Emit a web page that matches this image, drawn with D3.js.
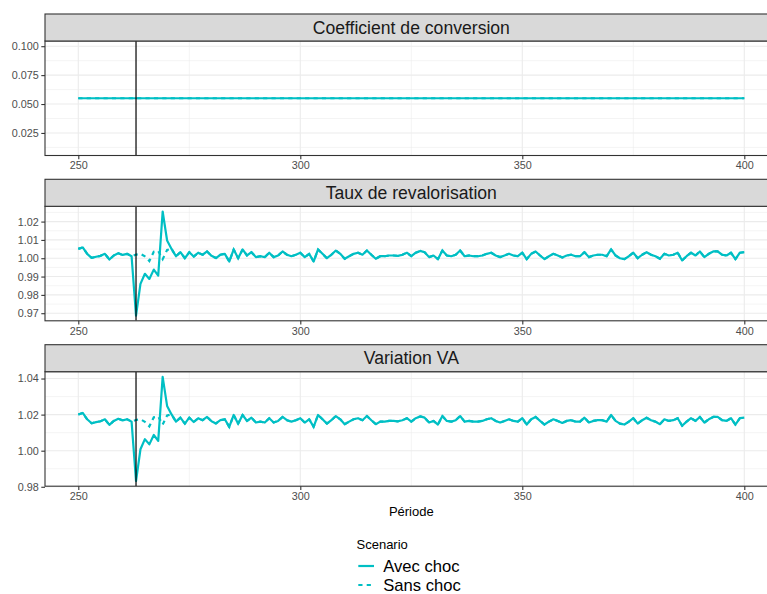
<!DOCTYPE html>
<html>
<head>
<meta charset="utf-8">
<script src="https://cdn.jsdelivr.net/npm/d3@7"></script>
<style>
  html, body { margin: 0; padding: 0; background: #fff; }
  svg { display: block; font-family: "Liberation Sans", Arial, Helvetica, sans-serif; }
</style>
</head>
<body>
<svg id="chart" width="767" height="594"></svg>
<script>
// Simulation periods
const periods = d3.range(250, 401);
const shockPeriod = 263;

// Coefficient de conversion (identical in both scenarios)
const coefAvecChoc = [
  0.055, 0.055, 0.055, 0.055, 0.055, 0.055, 0.055, 0.055, 0.055, 0.055,
  0.055, 0.055, 0.055, 0.055, 0.055, 0.055, 0.055, 0.055, 0.055, 0.055,
  0.055, 0.055, 0.055, 0.055, 0.055, 0.055, 0.055, 0.055, 0.055, 0.055,
  0.055, 0.055, 0.055, 0.055, 0.055, 0.055, 0.055, 0.055, 0.055, 0.055,
  0.055, 0.055, 0.055, 0.055, 0.055, 0.055, 0.055, 0.055, 0.055, 0.055,
  0.055, 0.055, 0.055, 0.055, 0.055, 0.055, 0.055, 0.055, 0.055, 0.055,
  0.055, 0.055, 0.055, 0.055, 0.055, 0.055, 0.055, 0.055, 0.055, 0.055,
  0.055, 0.055, 0.055, 0.055, 0.055, 0.055, 0.055, 0.055, 0.055, 0.055,
  0.055, 0.055, 0.055, 0.055, 0.055, 0.055, 0.055, 0.055, 0.055, 0.055,
  0.055, 0.055, 0.055, 0.055, 0.055, 0.055, 0.055, 0.055, 0.055, 0.055,
  0.055, 0.055, 0.055, 0.055, 0.055, 0.055, 0.055, 0.055, 0.055, 0.055,
  0.055, 0.055, 0.055, 0.055, 0.055, 0.055, 0.055, 0.055, 0.055, 0.055,
  0.055, 0.055, 0.055, 0.055, 0.055, 0.055, 0.055, 0.055, 0.055, 0.055,
  0.055, 0.055, 0.055, 0.055, 0.055, 0.055, 0.055, 0.055, 0.055, 0.055,
  0.055, 0.055, 0.055, 0.055, 0.055, 0.055, 0.055, 0.055, 0.055, 0.055,
  0.055
];
const coefSansChoc = [
  0.055, 0.055, 0.055, 0.055, 0.055, 0.055, 0.055, 0.055, 0.055, 0.055,
  0.055, 0.055, 0.055, 0.055, 0.055, 0.055, 0.055, 0.055, 0.055, 0.055,
  0.055, 0.055, 0.055, 0.055, 0.055, 0.055, 0.055, 0.055, 0.055, 0.055,
  0.055, 0.055, 0.055, 0.055, 0.055, 0.055, 0.055, 0.055, 0.055, 0.055,
  0.055, 0.055, 0.055, 0.055, 0.055, 0.055, 0.055, 0.055, 0.055, 0.055,
  0.055, 0.055, 0.055, 0.055, 0.055, 0.055, 0.055, 0.055, 0.055, 0.055,
  0.055, 0.055, 0.055, 0.055, 0.055, 0.055, 0.055, 0.055, 0.055, 0.055,
  0.055, 0.055, 0.055, 0.055, 0.055, 0.055, 0.055, 0.055, 0.055, 0.055,
  0.055, 0.055, 0.055, 0.055, 0.055, 0.055, 0.055, 0.055, 0.055, 0.055,
  0.055, 0.055, 0.055, 0.055, 0.055, 0.055, 0.055, 0.055, 0.055, 0.055,
  0.055, 0.055, 0.055, 0.055, 0.055, 0.055, 0.055, 0.055, 0.055, 0.055,
  0.055, 0.055, 0.055, 0.055, 0.055, 0.055, 0.055, 0.055, 0.055, 0.055,
  0.055, 0.055, 0.055, 0.055, 0.055, 0.055, 0.055, 0.055, 0.055, 0.055,
  0.055, 0.055, 0.055, 0.055, 0.055, 0.055, 0.055, 0.055, 0.055, 0.055,
  0.055, 0.055, 0.055, 0.055, 0.055, 0.055, 0.055, 0.055, 0.055, 0.055,
  0.055
];

// Taux de revalorisation
const tauxAvecChoc = [
  1.0051, 1.0059, 1.0024, 1.0002, 1.0008, 1.0013, 1.0024, 0.9993, 1.0015, 1.0027,
  1.0018, 1.0024, 1.0011, 0.9687, 0.9860, 0.9915, 0.9887, 0.9938, 0.9905, 1.0255,
  1.0097, 1.0051, 1.0011, 1.0033, 1.0000, 1.0033, 1.0009, 1.0030, 1.0019, 1.0037,
  1.0013, 1.0001, 1.0019, 1.0024, 0.9982, 1.0048, 1.0000, 1.0048, 1.0015, 1.0033,
  1.0006, 1.0011, 1.0006, 1.0030, 1.0006, 1.0015, 1.0037, 1.0019, 1.0011, 1.0019,
  1.0030, 1.0006, 1.0024, 0.9982, 1.0048, 1.0024, 1.0000, 1.0019, 1.0042, 1.0024,
  0.9997, 1.0011, 1.0024, 1.0030, 1.0019, 1.0042, 1.0019, 0.9997, 1.0011, 1.0011,
  1.0015, 1.0015, 1.0013, 1.0019, 1.0030, 1.0011, 1.0030, 1.0040, 1.0033, 1.0006,
  1.0015, 0.9995, 1.0042, 1.0015, 1.0011, 1.0019, 1.0042, 1.0011, 1.0015, 1.0011,
  1.0011, 1.0015, 1.0024, 1.0030, 1.0015, 1.0006, 1.0015, 1.0024, 1.0015, 1.0011,
  1.0030, 0.9995, 1.0024, 1.0037, 1.0015, 0.9995, 1.0011, 1.0024, 1.0015, 1.0004,
  1.0015, 1.0019, 1.0011, 1.0011, 1.0033, 1.0006, 1.0015, 1.0019, 1.0019, 1.0011,
  1.0048, 1.0015, 1.0000, 0.9995, 1.0011, 1.0030, 1.0000, 1.0019, 1.0033, 1.0019,
  1.0011, 0.9997, 1.0024, 1.0015, 1.0019, 1.0030, 0.9988, 1.0011, 1.0030, 1.0015,
  1.0037, 1.0006, 1.0024, 1.0037, 1.0037, 1.0019, 1.0015, 1.0030, 0.9995, 1.0030,
  1.0033
];
const tauxSansChoc = [
  1.0051, 1.0059, 1.0024, 1.0002, 1.0008, 1.0013, 1.0024, 0.9993, 1.0015, 1.0027,
  1.0018, 1.0024, 1.0011, 1.0020, 1.0024, 1.0010, 0.9985, 1.0035, 1.0040, 0.9995,
  1.0045, 1.0051, 1.0011, 1.0033, 1.0000, 1.0033, 1.0009, 1.0030, 1.0019, 1.0037,
  1.0013, 1.0001, 1.0019, 1.0024, 0.9982, 1.0048, 1.0000, 1.0048, 1.0015, 1.0033,
  1.0006, 1.0011, 1.0006, 1.0030, 1.0006, 1.0015, 1.0037, 1.0019, 1.0011, 1.0019,
  1.0030, 1.0006, 1.0024, 0.9982, 1.0048, 1.0024, 1.0000, 1.0019, 1.0042, 1.0024,
  0.9997, 1.0011, 1.0024, 1.0030, 1.0019, 1.0042, 1.0019, 0.9997, 1.0011, 1.0011,
  1.0015, 1.0015, 1.0013, 1.0019, 1.0030, 1.0011, 1.0030, 1.0040, 1.0033, 1.0006,
  1.0015, 0.9995, 1.0042, 1.0015, 1.0011, 1.0019, 1.0042, 1.0011, 1.0015, 1.0011,
  1.0011, 1.0015, 1.0024, 1.0030, 1.0015, 1.0006, 1.0015, 1.0024, 1.0015, 1.0011,
  1.0030, 0.9995, 1.0024, 1.0037, 1.0015, 0.9995, 1.0011, 1.0024, 1.0015, 1.0004,
  1.0015, 1.0019, 1.0011, 1.0011, 1.0033, 1.0006, 1.0015, 1.0019, 1.0019, 1.0011,
  1.0048, 1.0015, 1.0000, 0.9995, 1.0011, 1.0030, 1.0000, 1.0019, 1.0033, 1.0019,
  1.0011, 0.9997, 1.0024, 1.0015, 1.0019, 1.0030, 0.9988, 1.0011, 1.0030, 1.0015,
  1.0037, 1.0006, 1.0024, 1.0037, 1.0037, 1.0019, 1.0015, 1.0030, 0.9995, 1.0030,
  1.0033
];

// Variation VA
const vaAvecChoc = [
  1.0201, 1.0209, 1.0174, 1.0152, 1.0158, 1.0163, 1.0174, 1.0143, 1.0165, 1.0177,
  1.0168, 1.0174, 1.0161, 0.9832, 1.0008, 1.0064, 1.0035, 1.0087, 1.0054, 1.0409,
  1.0248, 1.0201, 1.0161, 1.0183, 1.0150, 1.0183, 1.0159, 1.0180, 1.0169, 1.0187,
  1.0163, 1.0151, 1.0169, 1.0174, 1.0132, 1.0198, 1.0150, 1.0198, 1.0165, 1.0183,
  1.0156, 1.0161, 1.0156, 1.0180, 1.0156, 1.0165, 1.0187, 1.0169, 1.0161, 1.0169,
  1.0180, 1.0156, 1.0174, 1.0132, 1.0198, 1.0174, 1.0150, 1.0169, 1.0192, 1.0174,
  1.0147, 1.0161, 1.0174, 1.0180, 1.0169, 1.0192, 1.0169, 1.0147, 1.0161, 1.0161,
  1.0165, 1.0165, 1.0163, 1.0169, 1.0180, 1.0161, 1.0180, 1.0190, 1.0183, 1.0156,
  1.0165, 1.0145, 1.0192, 1.0165, 1.0161, 1.0169, 1.0192, 1.0161, 1.0165, 1.0161,
  1.0161, 1.0165, 1.0174, 1.0180, 1.0165, 1.0156, 1.0165, 1.0174, 1.0165, 1.0161,
  1.0180, 1.0145, 1.0174, 1.0187, 1.0165, 1.0145, 1.0161, 1.0174, 1.0165, 1.0154,
  1.0165, 1.0169, 1.0161, 1.0161, 1.0183, 1.0156, 1.0165, 1.0169, 1.0169, 1.0161,
  1.0198, 1.0165, 1.0150, 1.0145, 1.0161, 1.0180, 1.0150, 1.0169, 1.0183, 1.0169,
  1.0161, 1.0147, 1.0174, 1.0165, 1.0169, 1.0180, 1.0138, 1.0161, 1.0180, 1.0165,
  1.0187, 1.0156, 1.0174, 1.0187, 1.0187, 1.0169, 1.0165, 1.0180, 1.0145, 1.0180,
  1.0183
];
const vaSansChoc = [
  1.0201, 1.0209, 1.0174, 1.0152, 1.0158, 1.0163, 1.0174, 1.0143, 1.0165, 1.0177,
  1.0168, 1.0174, 1.0161, 1.0170, 1.0174, 1.0160, 1.0135, 1.0185, 1.0190, 1.0145,
  1.0195, 1.0201, 1.0161, 1.0183, 1.0150, 1.0183, 1.0159, 1.0180, 1.0169, 1.0187,
  1.0163, 1.0151, 1.0169, 1.0174, 1.0132, 1.0198, 1.0150, 1.0198, 1.0165, 1.0183,
  1.0156, 1.0161, 1.0156, 1.0180, 1.0156, 1.0165, 1.0187, 1.0169, 1.0161, 1.0169,
  1.0180, 1.0156, 1.0174, 1.0132, 1.0198, 1.0174, 1.0150, 1.0169, 1.0192, 1.0174,
  1.0147, 1.0161, 1.0174, 1.0180, 1.0169, 1.0192, 1.0169, 1.0147, 1.0161, 1.0161,
  1.0165, 1.0165, 1.0163, 1.0169, 1.0180, 1.0161, 1.0180, 1.0190, 1.0183, 1.0156,
  1.0165, 1.0145, 1.0192, 1.0165, 1.0161, 1.0169, 1.0192, 1.0161, 1.0165, 1.0161,
  1.0161, 1.0165, 1.0174, 1.0180, 1.0165, 1.0156, 1.0165, 1.0174, 1.0165, 1.0161,
  1.0180, 1.0145, 1.0174, 1.0187, 1.0165, 1.0145, 1.0161, 1.0174, 1.0165, 1.0154,
  1.0165, 1.0169, 1.0161, 1.0161, 1.0183, 1.0156, 1.0165, 1.0169, 1.0169, 1.0161,
  1.0198, 1.0165, 1.0150, 1.0145, 1.0161, 1.0180, 1.0150, 1.0169, 1.0183, 1.0169,
  1.0161, 1.0147, 1.0174, 1.0165, 1.0169, 1.0180, 1.0138, 1.0161, 1.0180, 1.0165,
  1.0187, 1.0156, 1.0174, 1.0187, 1.0187, 1.0169, 1.0165, 1.0180, 1.0145, 1.0180,
  1.0183
];

// Facet titles and axis ticks
const facetTitles = ["Coefficient de conversion", "Taux de revalorisation", "Variation VA"];
const xTicks = [250, 300, 350, 400];
const xMinorTicks = [275, 325, 375];
const yTicksCoef = [0.025, 0.050, 0.075, 0.100];
const yTickLabelsCoef = ["0.025", "0.050", "0.075", "0.100"];
const yTicksTaux = [0.97, 0.98, 0.99, 1.00, 1.01, 1.02];
const yTickLabelsTaux = ["0.97", "0.98", "0.99", "1.00", "1.01", "1.02"];
const yTicksVA = [0.98, 1.00, 1.02, 1.04];
const yTickLabelsVA = ["0.98", "1.00", "1.02", "1.04"];
const scenarios = ["Avec choc", "Sans choc"];

const facets = [
  { title: facetTitles[0], avec: coefAvecChoc, sans: coefSansChoc, ticks: yTicksCoef, labels: yTickLabelsCoef },
  { title: facetTitles[1], avec: tauxAvecChoc, sans: tauxSansChoc, ticks: yTicksTaux, labels: yTickLabelsTaux },
  { title: facetTitles[2], avec: vaAvecChoc, sans: vaSansChoc, ticks: yTicksVA, labels: yTickLabelsVA }
];

// Layout
const svg = d3.select("#chart");
const color = "#00BFC4";
const panelLeft = 45;
const stripH = 27;
const plotH = 114.5;
const stripTops = [14, 179.3, 344.7];

// x scale shared by all facets (5% padding like ggplot)
const xExt = d3.extent(periods);
const xPad = (xExt[1] - xExt[0]) * 0.05;
const unit = 666 / (xExt[1] - xExt[0]);
const panelRight = panelLeft + (xExt[1] - xExt[0] + 2 * xPad) * unit;
const x = d3.scaleLinear().domain([xExt[0] - xPad, xExt[1] + xPad]).range([panelLeft, panelRight]);

function yDomain(values) {
  const [lo, hi] = d3.extent(values);
  if (hi - lo < 1e-12) {
    const w = Math.abs(lo) * 0.9;
    return [lo - w, hi + w];
  }
  const p = (hi - lo) * 0.05;
  return [lo - p, hi + p];
}

facets.forEach((f, i) => {
  const top = stripTops[i] + stripH;
  const bottom = top + plotH;
  const y = d3.scaleLinear().domain(yDomain(f.avec.concat(f.sans))).range([bottom, top]);
  const g = svg.append("g");

  // panel background
  g.append("rect").attr("x", panelLeft).attr("y", top)
    .attr("width", panelRight - panelLeft).attr("height", plotH).attr("fill", "#fff");

  // minor grid
  const step = f.ticks[1] - f.ticks[0];
  const yMinor = [];
  const [d0, d1] = y.domain();
  for (let v = f.ticks[0] - step / 2; v <= d1; v += step) {
    if (v >= d0) yMinor.push(v);
  }
  g.selectAll(".ymin").data(yMinor).join("line")
    .attr("x1", panelLeft).attr("x2", panelRight)
    .attr("y1", d => y(d)).attr("y2", d => y(d))
    .attr("stroke", "#EBEBEB").attr("stroke-width", 0.55);
  g.selectAll(".xmin").data(xMinorTicks).join("line")
    .attr("x1", d => x(d)).attr("x2", d => x(d))
    .attr("y1", top).attr("y2", bottom)
    .attr("stroke", "#EBEBEB").attr("stroke-width", 0.55);

  // major grid
  g.selectAll(".ymaj").data(f.ticks).join("line")
    .attr("x1", panelLeft).attr("x2", panelRight)
    .attr("y1", d => y(d)).attr("y2", d => y(d))
    .attr("stroke", "#EBEBEB").attr("stroke-width", 1.1);
  g.selectAll(".xmaj").data(xTicks).join("line")
    .attr("x1", d => x(d)).attr("x2", d => x(d))
    .attr("y1", top).attr("y2", bottom)
    .attr("stroke", "#EBEBEB").attr("stroke-width", 1.1);

  // clip region for the series
  const clipId = "clip" + i;
  svg.append("clipPath").attr("id", clipId).append("rect")
    .attr("x", panelLeft).attr("y", top).attr("width", panelRight - panelLeft).attr("height", plotH);

  const line = d3.line().x((d, k) => x(periods[k])).y(d => y(d));
  const lines = g.append("g").attr("clip-path", `url(#${clipId})`);
  lines.append("path").attr("d", line(f.avec))
    .attr("fill", "none").attr("stroke", color).attr("stroke-width", 2.2)
    .attr("stroke-linejoin", "round");
  lines.append("path").attr("d", line(f.sans))
    .attr("fill", "none").attr("stroke", color).attr("stroke-width", 2.2)
    .attr("stroke-dasharray", "4.2,4.2");

  // shock marker
  lines.append("line")
    .attr("x1", x(shockPeriod)).attr("x2", x(shockPeriod))
    .attr("y1", top).attr("y2", bottom)
    .attr("stroke", "#000").attr("stroke-width", 1.2);

  // panel border
  g.append("rect").attr("x", panelLeft).attr("y", top)
    .attr("width", panelRight - panelLeft).attr("height", plotH)
    .attr("fill", "none").attr("stroke", "#333333").attr("stroke-width", 1.1);

  // strip
  g.append("rect").attr("x", panelLeft).attr("y", stripTops[i])
    .attr("width", panelRight - panelLeft).attr("height", stripH)
    .attr("fill", "#D9D9D9").attr("stroke", "#333333").attr("stroke-width", 1.1);
  g.append("text").attr("x", (panelLeft + panelRight) / 2).attr("y", stripTops[i] + stripH / 2 + 6.2)
    .attr("text-anchor", "middle").attr("font-size", 17.6).attr("fill", "#1A1A1A").text(f.title);

  // y axis
  const yAxis = d3.axisLeft(y).tickValues(f.ticks).tickFormat((d, k) => f.labels[k])
    .tickSize(3.7).tickPadding(2.5);
  const ya = g.append("g").attr("transform", `translate(${panelLeft},0)`).call(yAxis);
  ya.select(".domain").remove();
  ya.selectAll(".tick line").attr("stroke", "#333333").attr("stroke-width", 1.1);
  ya.selectAll(".tick text").attr("fill", "#4D4D4D").attr("font-size", 10.8)
    .attr("font-family", "Liberation Sans, Arial, sans-serif");

  // x axis
  const xAxis = d3.axisBottom(x).tickValues(xTicks).tickFormat(d3.format("d"))
    .tickSize(3.7).tickPadding(2.5);
  const xa = g.append("g").attr("transform", `translate(0,${bottom})`).call(xAxis);
  xa.select(".domain").remove();
  xa.selectAll(".tick line").attr("stroke", "#333333").attr("stroke-width", 1.1);
  xa.selectAll(".tick text").attr("fill", "#4D4D4D").attr("font-size", 10.8)
    .attr("font-family", "Liberation Sans, Arial, sans-serif");
});

// x axis title
svg.append("text").attr("x", (panelLeft + Math.min(panelRight, 780)) / 2).attr("y", 516)
  .attr("text-anchor", "middle").attr("font-size", 13).attr("fill", "#000").text("Période");

// legend
const leg = svg.append("g");
leg.append("text").attr("x", 356.5).attr("y", 548.5).attr("font-size", 13).attr("fill", "#000").text("Scenario");
scenarios.forEach((s, k) => {
  const cy = 566 + k * 19;
  leg.append("line").attr("x1", 358.3).attr("x2", 374).attr("y1", cy).attr("y2", cy)
    .attr("stroke", color).attr("stroke-width", 2.2)
    .attr("stroke-dasharray", k === 0 ? null : "4.2,4.2");
  leg.append("text").attr("x", 383.3).attr("y", cy + 5.6).attr("font-size", 16.6).attr("fill", "#000").text(s);
});
</script>
</body>
</html>
